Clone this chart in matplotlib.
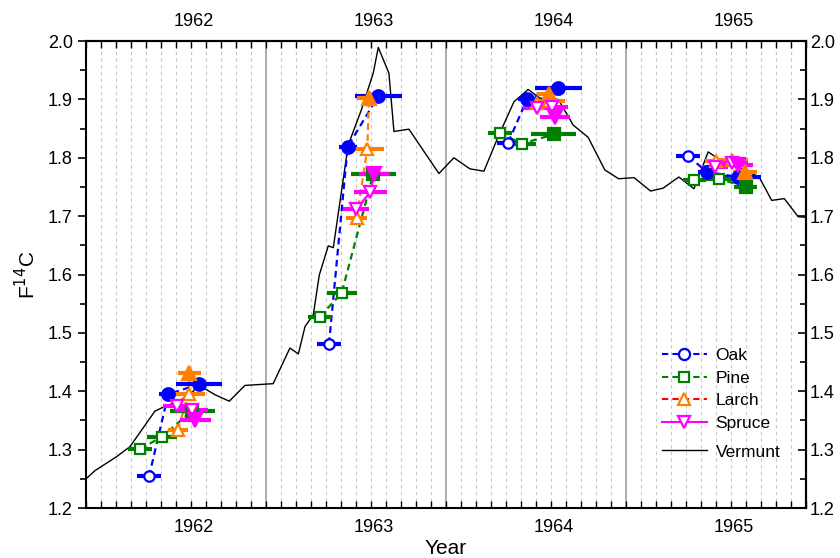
import numpy as np
import matplotlib
matplotlib.use('Agg')
import matplotlib.pyplot as plt
from matplotlib.lines import Line2D

plt.rcParams['font.family'] = ['Liberation Sans', 'DejaVu Sans']

# Vermunt reference curve
verm_x = [1961.40, 1961.45, 1961.57, 1961.644, 1961.783, 1961.839, 1961.922, 1961.996,
          1962.024, 1962.117, 1962.196, 1962.283, 1962.44, 1962.533, 1962.58, 1962.617,
          1962.663, 1962.696, 1962.746, 1962.774, 1962.857, 1962.93, 1962.996, 1963.024,
          1963.083, 1963.111, 1963.194, 1963.361, 1963.444, 1963.533, 1963.611, 1963.69,
          1963.778, 1963.857, 1963.922, 1964.024, 1964.107, 1964.19, 1964.283, 1964.36,
          1964.445, 1964.537, 1964.607, 1964.694, 1964.778, 1964.857, 1964.94, 1965.03,
          1965.14, 1965.21, 1965.28, 1965.357, 1965.40]
verm_y = [1.250, 1.264, 1.288, 1.305, 1.366, 1.374, 1.384, 1.400,
          1.411, 1.394, 1.383, 1.410, 1.413, 1.474, 1.464, 1.511,
          1.531, 1.599, 1.649, 1.646, 1.822, 1.882, 1.945, 1.989,
          1.945, 1.845, 1.849, 1.773, 1.800, 1.781, 1.777, 1.836,
          1.896, 1.917, 1.902, 1.900, 1.856, 1.835, 1.779, 1.764,
          1.766, 1.743, 1.748, 1.767, 1.747, 1.810, 1.793, 1.783,
          1.767, 1.727, 1.730, 1.699, 1.698]

# tree-ring samples: three per year, open = 0, filled = 1
oak_x = [1961.75, 1961.857, 1962.028, 1962.75, 1962.854, 1963.024,
         1963.746, 1963.85, 1964.024, 1964.746, 1964.848, 1965.02]
oak_y = [1.254, 1.395, 1.412, 1.481, 1.819, 1.906,
         1.826, 1.900, 1.919, 1.803, 1.776, 1.767]
oak_err = [0.068, 0.05, 0.13, 0.068, 0.05, 0.13,
           0.065, 0.05, 0.13, 0.065, 0.05, 0.13]
oak_fill = [0, 1, 1, 0, 1, 1, 0, 1, 1, 0, 1, 1]

pine_x = [1961.70, 1961.822, 1961.99, 1962.70, 1962.82, 1962.996,
          1963.70, 1963.82, 1964.0, 1964.78, 1964.917, 1965.065]
pine_y = [1.301, 1.322, 1.367, 1.528, 1.568, 1.772,
          1.843, 1.824, 1.840, 1.762, 1.764, 1.750]
pine_err = [0.065, 0.083, 0.125, 0.065, 0.083, 0.125,
            0.065, 0.083, 0.125, 0.065, 0.083, 0.065]
pine_fill = [0, 0, 1, 0, 0, 1, 0, 0, 1, 0, 0, 1]

larch_x = [1961.91, 1961.97, 1961.974, 1962.904, 1962.963, 1962.972,
           1963.904, 1963.97, 1963.975, 1964.90, 1964.99, 1965.06]
larch_y = [1.334, 1.395, 1.431, 1.697, 1.815, 1.902,
           1.893, 1.898, 1.910, 1.795, 1.797, 1.776]
larch_err = [0.057, 0.09, 0.065, 0.06, 0.09, 0.067,
             0.06, 0.09, 0.067, 0.06, 0.09, 0.067]
larch_fill = [0, 0, 1, 0, 0, 1, 0, 0, 1, 0, 0, 1]

spruce_x = [1961.904, 1961.987, 1962.006, 1962.90, 1962.98, 1963.002,
            1963.904, 1963.99, 1964.006, 1964.894, 1964.987, 1965.02]
spruce_y = [1.374, 1.368, 1.350, 1.712, 1.741, 1.773,
            1.885, 1.887, 1.869, 1.785, 1.791, 1.788]
spruce_err = [0.074, 0.09, 0.086, 0.074, 0.09, 0.086,
              0.074, 0.09, 0.086, 0.074, 0.09, 0.086]
spruce_fill = [0, 0, 1, 0, 0, 1, 0, 0, 1, 0, 0, 1]

year_labels = ['1962', '1963', '1964', '1965']
year_pos = [1962, 1963, 1964, 1965]
y_ticks = [1.2, 1.3, 1.4, 1.5, 1.6, 1.7, 1.8, 1.9, 2.0]
y_labels = ['1.2', '1.3', '1.4', '1.5', '1.6', '1.7', '1.8', '1.9', '2.0']

BLUE = '#0000FF'
GREEN = '#008000'
ORANGE = '#FF8000'
MAGENTA = '#FF00FF'
RED = '#FF0000'

series = [
    # x, y, err, fill, marker, colour, line style, size
    (oak_x, oak_y, oak_err, oak_fill, 'o', BLUE, (0, (3, 2)), 7.5),
    (pine_x, pine_y, pine_err, pine_fill, 's', GREEN, (0, (3, 2)), 7),
    (larch_x, larch_y, larch_err, larch_fill, '^', ORANGE, (0, (3, 2)), 8),
    (spruce_x, spruce_y, spruce_err, spruce_fill, 'v', MAGENTA, '-', 8),
]

fig = plt.figure(figsize=(8.4, 5.58), dpi=100)
ax = fig.add_axes([0.1024, 0.0896, 0.857, 0.8369])

x0, x1 = 1961.4, 1965.4
months = np.arange(49) / 12 + x0
y_minor = np.arange(17) * 0.05 + 1.2
for i, m in enumerate(months[1:-1], start=1):
    if i % 12 == 0:
        ax.axvline(m, color='#a0a0a0', lw=1.2, zorder=0)
    else:
        ax.axvline(m, color='#c8c8c8', lw=0.8, ls=(0, (3, 3)), zorder=0)

ax.plot(verm_x, verm_y, color='black', lw=1, zorder=2)

for xs, ys, es, fs, mk, col, ls, ms in series:
    for g in range(0, len(xs), 3):
        ax.plot(xs[g:g + 3], ys[g:g + 3], color=col, ls=ls, lw=1.6, zorder=3)
    for x, y, e, f in zip(xs, ys, es, fs):
        ax.errorbar(x, y, xerr=e, fmt=mk, color=col, ecolor=col, elinewidth=3,
                    capsize=0, ms=ms + (1.5 if f else 0), mfc=col if f else 'white',
                    mec=col, mew=1.6, zorder=4)

ax.set_xlim(x0, x1)
ax.set_ylim(1.2, 2.0)

ax.set_xticks(year_pos)
ax.set_xticklabels(year_labels)
ax.set_xticks(months, minor=True)
ax.tick_params(axis='x', which='major', length=0, labelsize=13, pad=8)
ax.tick_params(axis='x', which='minor', direction='in', length=5, width=1)

ax.set_yticks(y_ticks)
ax.set_yticklabels(y_labels)
ax.set_yticks(y_minor, minor=True)
ax.tick_params(axis='y', which='major', direction='out', length=6, width=1.2, labelsize=13)
ax.tick_params(axis='y', which='minor', direction='out', length=4, width=1.2)

top = ax.secondary_xaxis('top')
top.set_xticks(year_pos)
top.set_xticklabels(year_labels)
top.set_xticks(months, minor=True)
top.tick_params(axis='x', which='major', length=0, labelsize=13, pad=8)
top.tick_params(axis='x', which='minor', direction='in', length=5, width=1)

right = ax.secondary_yaxis('right')
right.set_yticks(y_ticks)
right.set_yticklabels(y_labels)
right.set_yticks(y_minor, minor=True)
right.tick_params(axis='y', which='major', direction='in', length=6, width=1.2, labelsize=13, pad=3)
right.tick_params(axis='y', which='minor', direction='in', length=4, width=1.2)

for a in (ax, top, right):
    for sp in a.spines.values():
        sp.set_linewidth(1.5)

ax.set_xlabel('Year', fontsize=15, labelpad=2)
ax.set_ylabel('F$^{14}$C', fontsize=15, labelpad=6)

handles = [
    Line2D([], [], color=BLUE, ls=(0, (3, 2)), marker='o', mfc='white', mec=BLUE, ms=8, mew=1.6),
    Line2D([], [], color=GREEN, ls=(0, (3, 2)), marker='s', mfc='white', mec=GREEN, ms=7, mew=1.6),
    Line2D([], [], color=RED, ls=(0, (3, 2)), marker='^', mfc='white', mec=ORANGE, ms=8, mew=1.6),
    Line2D([], [], color=MAGENTA, ls='-', marker='v', mfc='white', mec=MAGENTA, ms=8, mew=1.6),
]
leg = ax.legend(handles, ['Oak', 'Pine', 'Larch', 'Spruce'], loc='upper left',
                bbox_to_anchor=(0.79, 0.357), frameon=False, fontsize=12.5,
                handlelength=2.6, handletextpad=0.5, labelspacing=0.42, borderaxespad=0)
ax.add_artist(leg)
ax.legend([Line2D([], [], color='black', lw=1)], ['Vermunt'], loc='center left',
          bbox_to_anchor=(0.79, 0.12), frameon=False, fontsize=12.5,
          handlelength=2.6, handletextpad=0.5, borderaxespad=0)

fig.savefig('out.png', dpi=100)
